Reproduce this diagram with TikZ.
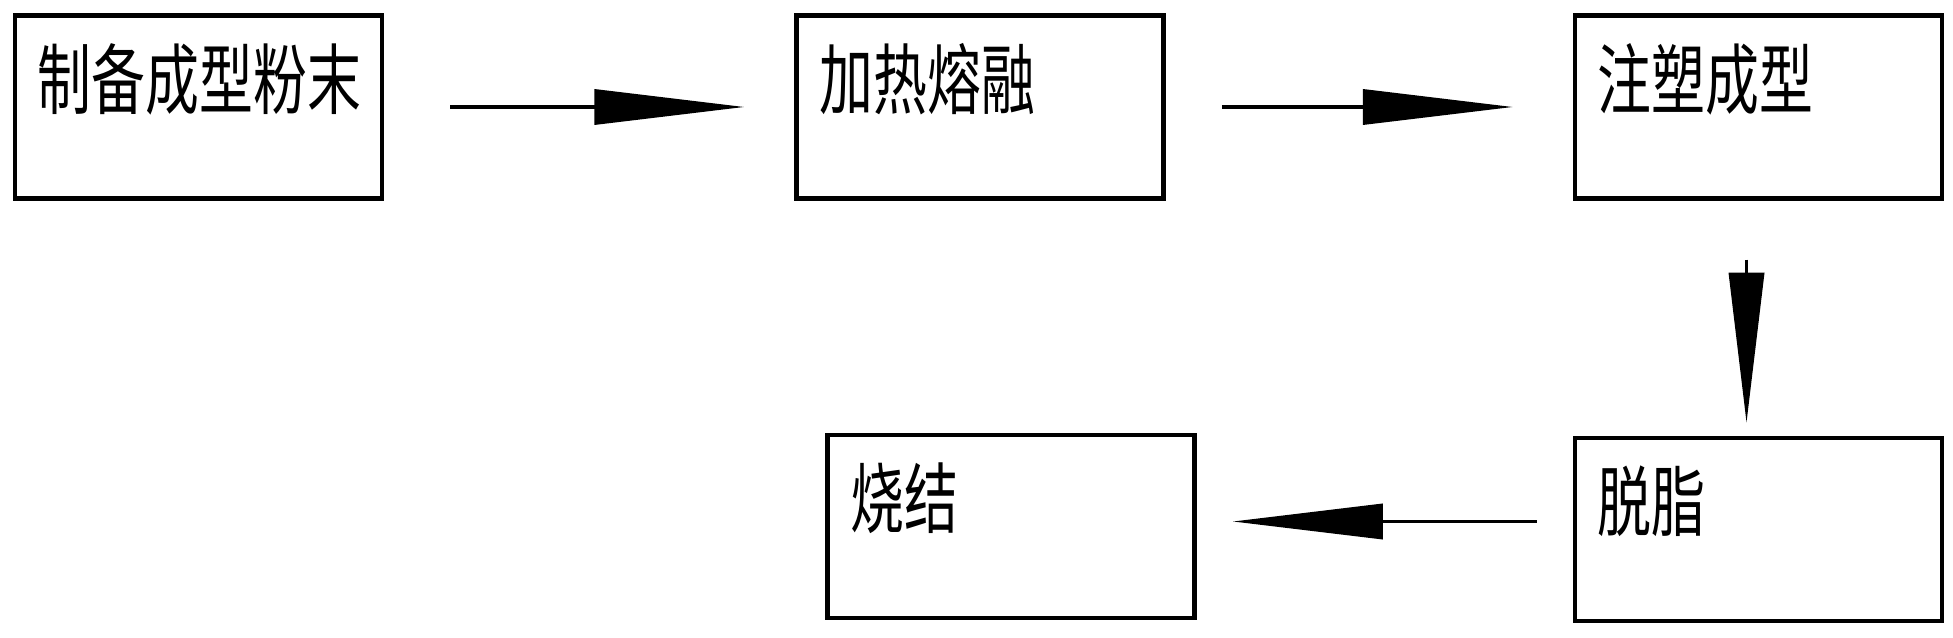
\documentclass[tikz,border=0pt]{standalone}
\usepackage{fontspec}
\newfontfamily\cjk[FakeStretch=0.7]{Noto Sans CJK SC}
\usetikzlibrary{arrows.meta,positioning}

\begin{document}
\begin{tikzpicture}[x=1pt,y=1pt,
    box/.style={draw, line width=4.5pt, minimum width=367pt,
      minimum height=183pt, inner sep=0pt},
    lbl/.style={anchor=base west, inner sep=0pt,
      font=\cjk\fontsize{77pt}{80pt}\selectfont},
    flow/.style={draw, line width=3.5pt,
      -{Triangle[length=150pt,width=35pt]}}]
      \useasboundingbox (0,0) rectangle (1953,637);
      % Add the boxes
      \node[box] (powder) at (198.5,530) {};
      \node[box,
        right=410pt of powder] (melt) {};
      \node[box,
        right=407pt of melt] (mould) {};
      \node[box,
        below=235pt of mould] (debind) {};
      \node[box,
        left=376pt of debind, yshift=3pt] (sinter) {};
      % Add the texts
      \node[lbl] (tpowder) at ([shift={(25pt,-95pt)}]powder.north west) {制备成型粉末};
      \node[lbl] (tmelt)   at ([shift={(25pt,-95pt)}]melt.north west)   {加热熔融};
      \node[lbl] (tmould)  at ([shift={(25pt,-95pt)}]mould.north west)  {注塑成型};
      \node[lbl] (tdebind) at ([shift={(25pt,-95pt)}]debind.north west) {脱脂};
      \node[lbl] (tsinter) at ([shift={(25pt,-95pt)}]sinter.north west) {烧结};
      % Connect the boxes with arrows
      \path
      (powder) edge[flow, shorten <=66pt, shorten >=50pt] (melt)
      (melt) edge[flow, shorten <=56pt, shorten >=60pt] (mould)
      ([xshift=-12pt]mould.south) edge[flow, shorten <=59pt, shorten >=13pt] ([xshift=-12pt]debind.north)
      ([yshift=8pt]debind.west) edge[flow, shorten <=36pt, shorten >=36pt] ([yshift=8pt]debind.west -| sinter.east);
    \end{tikzpicture}
\end{document}
